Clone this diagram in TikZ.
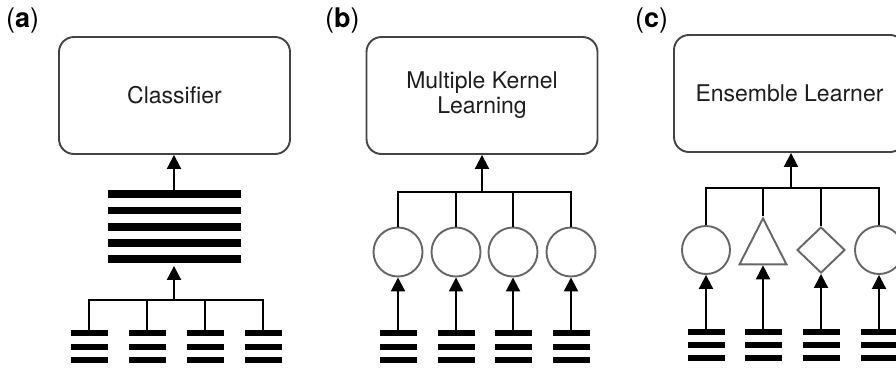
\documentclass[tikz,border=0pt]{standalone}
\usepackage{fontspec}
\setmainfont{TeX Gyre Heros}
\usetikzlibrary{arrows.meta,shapes.geometric}
\definecolor{boxgray}{HTML}{444444}
\definecolor{shapegray}{HTML}{666666}
\definecolor{textgray}{HTML}{1E1E1E}
\begin{document}
\begin{tikzpicture}[x=1pt,y=-1pt,
  labfont/.style={font=\fontsize{23}{25}\selectfont},
  panellabel/.style={font=\fontsize{27}{29}\selectfont,anchor=west,inner sep=0pt,text=black},
  panelbox/.style={draw=boxgray,line width=1.9pt,rounded corners=15pt,
    minimum width=231pt,minimum height=117pt,align=center,labfont,text=textgray},
  bigbar/.style={fill=black,inner sep=0pt,minimum width=133pt,minimum height=7.5pt},
  smallbar/.style={fill=black,inner sep=0pt,minimum width=37pt,minimum height=6pt},
  model/.style={draw=shapegray,line width=1.9pt,inner sep=0pt,fill=white},
  wire/.style={line width=2pt,black},
  arr/.style={wire,-{Triangle[width=14pt,length=14pt]}}
]
\clip (0,0) rectangle (896,368);
\fill[white] (0,0) rectangle (896,368);

% ---------- (a) early integration ----------
\node[panellabel] (labA) at (6,21) {(\textbf{a})};
\node[panelbox] (clsA) at (174.5,95.5) {Classifier};
\foreach \k/\y in {1/194,2/210.5,3/227,4/243,5/259}
  \node[bigbar] (barA\k) at (174,\y) {};
\draw[arr] (barA1.center) -- (barA1.center |- clsA.south);
\coordinate (hubA) at (174,300);
\foreach \k/\x in {1/89,2/147,3/205,4/263}{
  \node[smallbar] (sA\k) at (\x,333) {};
  \node[smallbar] (sA\k b) at (\x,346.5) {};
  \node[smallbar] (sA\k c) at (\x,360) {};
}
\draw[wire] (sA1.center) |- (hubA) -| (sA4.center);
\draw[wire] (sA2.center) -- (sA2.center |- hubA);
\draw[wire] (sA3.center) -- (sA3.center |- hubA);
\draw[arr,shorten >=3pt] (hubA) -- (barA5.south);

% ---------- (b) multiple kernel learning ----------
\node[panellabel] (labB) at (325,21) {(\textbf{b})};
\node[panelbox] (mklB) at (482,95.5) {Multiple Kernel\\Learning};
\coordinate (hubB) at (482,192);
\draw[arr] (hubB) -- (hubB |- mklB.south);
\foreach \k/\x in {1/398,2/456,3/513,4/571}{
  \node[model,circle,minimum size=49pt] (kB\k) at (\x,252) {};
  \node[smallbar] (sB\k) at (\x,333) {};
  \node[smallbar] (sB\k b) at (\x,346.5) {};
  \node[smallbar] (sB\k c) at (\x,360) {};
  \draw[arr] (sB\k.center) -- (kB\k.south);
}
\draw[wire] (kB1.north) |- (hubB) -| (kB4.north);
\draw[wire] (kB2.north) -- (kB2.north |- hubB);
\draw[wire] (kB3.north) -- (kB3.north |- hubB);

% ---------- (c) ensemble learning ----------
\node[panellabel] (labC) at (635,21) {(\textbf{c})};
\node[panelbox] (ensC) at (789.5,93.5) {Ensemble Learner};
\coordinate (hubC) at (791,188);
\draw[arr] (hubC) -- (hubC |- ensC.south);
\node[model,circle,minimum size=48pt] (mC1) at (706,250) {};
\node[model,isosceles triangle,shape border rotate=90,isosceles triangle stretches,
      minimum width=47pt,minimum height=46pt] (mC2) at (763,250) {};
\node[model,diamond,minimum width=48pt,minimum height=46pt] (mC3) at (821,250) {};
\node[model,circle,minimum size=48pt] (mC4) at (879,250) {};
\foreach \k/\x in {1/706,2/763,3/821,4/879}{
  \node[smallbar] (sC\k) at (\x,332) {};
  \node[smallbar] (sC\k b) at (\x,345) {};
  \node[smallbar] (sC\k c) at (\x,358) {};
}
\draw[arr] (sC1.center) -- (mC1.south);
\draw[arr] (sC2.center) -- (mC2.lower side);
\draw[arr] (sC3.center) -- (mC3.south);
\draw[arr] (sC4.center) -- (mC4.south);
\draw[wire] (mC1.north) |- (hubC) -| (mC4.north);
\draw[wire] (mC2.apex) -- (mC2.apex |- hubC);
\draw[wire] (mC3.north) -- (mC3.north |- hubC);
\end{tikzpicture}
\end{document}
